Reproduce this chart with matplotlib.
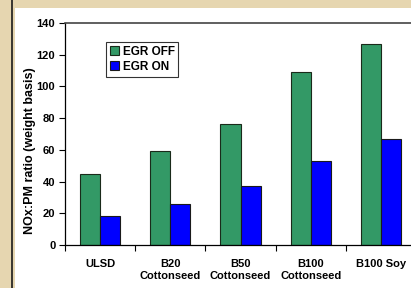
import numpy as np
import matplotlib
matplotlib.use('Agg')
from matplotlib import pyplot as plt
from matplotlib.patches import Rectangle
from matplotlib.lines import Line2D

# Data
fuels = ['ULSD', 'B20\nCottonseed', 'B50\nCottonseed', 'B100\nCottonseed', 'B100 Soy']
egrOff = [45, 59, 76, 109, 127]
egrOn = [18, 26, 37, 53, 67]

plt.rcParams['font.family'] = ['Liberation Sans', 'DejaVu Sans']
plt.rcParams['font.weight'] = 'bold'

fig = plt.figure(figsize=(4.11, 2.88), dpi=100)
fig.patch.set_facecolor('#E6D6B0')

# white panel and the dark line on the left
fig.patches.append(Rectangle((15 / 411, 0), 1, 1 - 8 / 288, transform=fig.transFigure,
                             facecolor='white', edgecolor='none', zorder=-5))
fig.lines.append(Line2D([12 / 411, 12 / 411], [0, 1], transform=fig.transFigure,
                        color='#1a1a1a', linewidth=1.2, zorder=-4))

ax = fig.add_axes([65 / 411, 43 / 288, 351 / 411, 222 / 288])
ax.set_zorder(2)
ax.set_facecolor('white')

x = np.arange(len(fuels))
w = 20 / 70
ax.bar(x - w / 2, egrOff, w, color='#339966', edgecolor='#1a2a1a', linewidth=0.8, label='EGR OFF')
ax.bar(x + w / 2, egrOn, w, color='#0000FF', edgecolor='#1a1a1a', linewidth=0.8, label='EGR ON')

ax.set_xlim(-0.5, len(fuels) - 0.5)
ax.set_ylim(0, 140)
ax.set_yticks(range(0, 141, 20))
ax.set_xticks(np.arange(len(fuels) + 1) - 0.5)
ax.set_xticklabels([])
ax.set_xticks(x, minor=True)
ax.set_xticklabels(fuels, minor=True, fontsize=8, fontweight='bold', linespacing=1.3)
ax.tick_params(axis='x', which='minor', length=0, pad=10)
ax.tick_params(axis='x', which='major', length=4, direction='out', width=0.8)
ax.tick_params(axis='y', length=4, direction='out', width=0.8, labelsize=8, pad=3)
for lab in ax.get_yticklabels():
    lab.set_fontweight('bold')

ax.spines['right'].set_visible(False)
ax.spines['top'].set_color('#444444')
ax.spines['top'].set_linewidth(1.2)
ax.spines['left'].set_linewidth(0.9)
ax.spines['bottom'].set_linewidth(0.9)

fig.text(30 / 411, 1 - 151 / 288, 'NOx:PM ratio (weight basis)', rotation=90,
         ha='center', va='center', fontsize=9, fontweight='bold')

leg = ax.legend(loc='upper left', bbox_to_anchor=((106 - 65) / 351, (245 - 42) / 222),
                fontsize=8.5, frameon=True, fancybox=False, borderpad=0.3,
                handlelength=0.8, handleheight=0.8, handletextpad=0.3, labelspacing=0.3,
                borderaxespad=0)
leg.get_frame().set_edgecolor('black')
leg.get_frame().set_linewidth(0.8)
for t in leg.get_texts():
    t.set_fontweight('bold')

fig.savefig('out.png', dpi=100, facecolor=fig.get_facecolor())
